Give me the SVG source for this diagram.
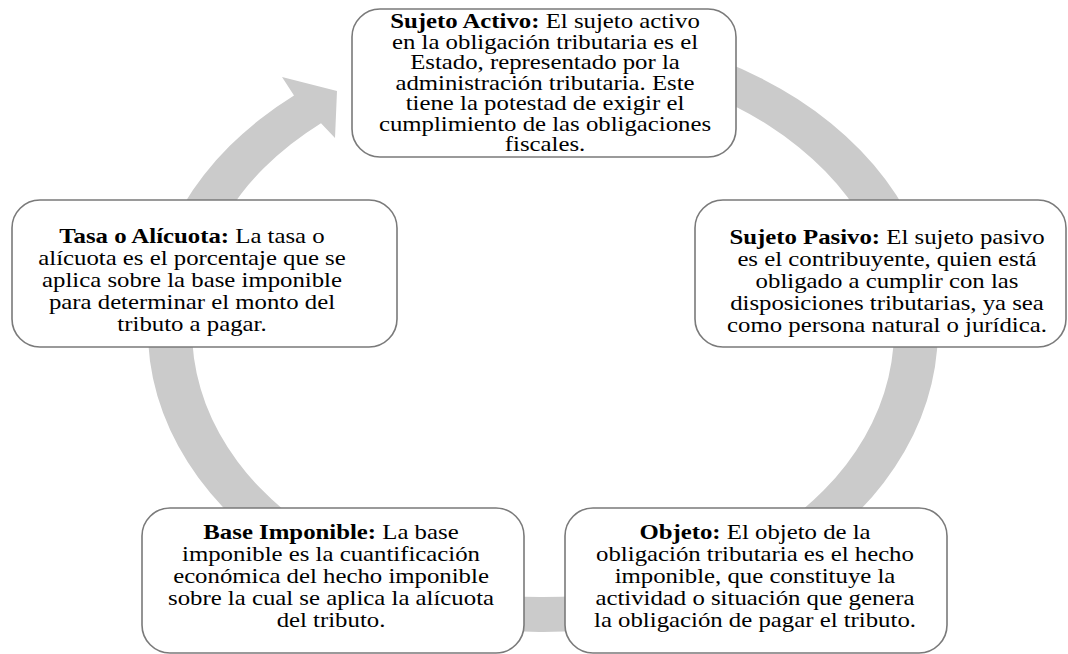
<svg xmlns="http://www.w3.org/2000/svg" width="1068" height="654" viewBox="0 0 1068 654">
<style>
.box{fill:#ffffff;stroke:#7a7a7a;stroke-width:1.6}
.t{font-family:"Liberation Serif","Times New Roman",serif;font-size:21.5px;fill:#000000;text-anchor:middle}
.t2{font-size:20.2px}
.b{font-weight:bold}
.ring{fill:#cbcbcb;stroke:none}
</style>
<rect width="1068" height="654" fill="#ffffff"/>
<g id="connectors">
<path class="ring" d="M 543 28 A 395 302 0 1 1 294 95.5 L 282 77 L 337 91 L 335 138 L 321 123.2 A 351 267 0 1 0 543 63 Z"/>
</g>
<g id="sujeto-activo">
<rect class="box" x="352" y="9" width="384" height="148" rx="28"/>
<g transform="translate(545 0) scale(1.227 1)">
<text class="t t2"><tspan x="0" y="28.5"><tspan class="b">Sujeto Activo:</tspan> El sujeto activo</tspan><tspan x="0" y="49">en la obligación tributaria es el</tspan><tspan x="0" y="69.5">Estado, representado por la</tspan><tspan x="0" y="90">administración tributaria. Este</tspan><tspan x="0" y="110.5">tiene la potestad de exigir el</tspan><tspan x="0" y="131">cumplimiento de las obligaciones</tspan><tspan x="0" y="151.5">fiscales.</tspan></text>
</g>
</g>
<g id="sujeto-pasivo">
<rect class="box" x="695" y="200" width="371" height="147" rx="28"/>
<g transform="translate(887 0) scale(1.153 1)">
<text class="t"><tspan x="0" y="244.5"><tspan class="b">Sujeto Pasivo:</tspan> El sujeto pasivo</tspan><tspan x="0" y="266.3">es el contribuyente, quien está</tspan><tspan x="0" y="288.1">obligado a cumplir con las</tspan><tspan x="0" y="309.9">disposiciones tributarias, ya sea</tspan><tspan x="0" y="331.7">como persona natural o jurídica.</tspan></text>
</g>
</g>
<g id="objeto">
<rect class="box" x="565" y="508" width="382" height="145" rx="28"/>
<g transform="translate(755 0) scale(1.153 1)">
<text class="t"><tspan x="0" y="539.5"><tspan class="b">Objeto:</tspan> El objeto de la</tspan><tspan x="0" y="561.3">obligación tributaria es el hecho</tspan><tspan x="0" y="583.1">imponible, que constituye la</tspan><tspan x="0" y="604.9">actividad o situación que genera</tspan><tspan x="0" y="626.7">la obligación de pagar el tributo.</tspan></text>
</g>
</g>
<g id="base-imponible">
<rect class="box" x="142" y="508" width="382" height="145" rx="28"/>
<g transform="translate(331 0) scale(1.153 1)">
<text class="t"><tspan x="0" y="539.5"><tspan class="b">Base Imponible:</tspan> La base</tspan><tspan x="0" y="561.3">imponible es la cuantificación</tspan><tspan x="0" y="583.1">económica del hecho imponible</tspan><tspan x="0" y="604.9">sobre la cual se aplica la alícuota</tspan><tspan x="0" y="626.7">del tributo.</tspan></text>
</g>
</g>
<g id="tasa-alicuota">
<rect class="box" x="12" y="200" width="385" height="147" rx="28"/>
<g transform="translate(192 0) scale(1.153 1)">
<text class="t"><tspan x="0" y="243.5"><tspan class="b">Tasa o Alícuota:</tspan> La tasa o</tspan><tspan x="0" y="265.3">alícuota es el porcentaje que se</tspan><tspan x="0" y="287.1">aplica sobre la base imponible</tspan><tspan x="0" y="308.9">para determinar el monto del</tspan><tspan x="0" y="330.7">tributo a pagar.</tspan></text>
</g>
</g>
</svg>
